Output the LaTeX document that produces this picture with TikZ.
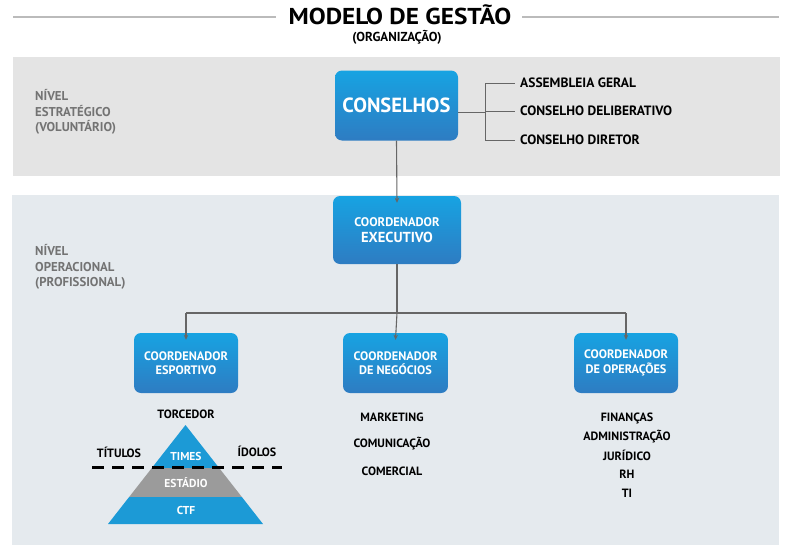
\documentclass[tikz,border=0pt]{standalone}
\usepackage{fontspec}
\setmainfont{PT Sans}
\usetikzlibrary{arrows.meta,calc}
\definecolor{bandA}{HTML}{E4E4E4}
\definecolor{bandB}{HTML}{E5EAEE}
\definecolor{boxtop}{HTML}{17A3E2}
\definecolor{boxbot}{HTML}{2E7CC2}
\definecolor{pyblue}{HTML}{1C9AD6}
\definecolor{pygray}{HTML}{9B9B9B}
\definecolor{lvl}{HTML}{737373}
\definecolor{conn}{HTML}{666666}
\definecolor{rule}{HTML}{BBBBBB}
\begin{document}
\begin{tikzpicture}[x=1pt,y=-1pt,
  box/.style={rounded corners=7pt, top color=boxtop, bottom color=boxbot, draw=none,
    text=white, align=center, inner sep=0pt},
  connline/.style={draw=conn, line width=1.1pt},
  arr/.style={connline, -{Stealth[length=5pt,width=4.5pt]}},
  lvltext/.style={text=lvl, font=\bfseries\fontsize{12.8}{15.8}\selectfont, align=left, anchor=north west, inner sep=0pt},
  item/.style={font=\bfseries\fontsize{12}{14}\selectfont, inner sep=0pt},
  bitem/.style={font=\bfseries\fontsize{13.5}{15}\selectfont, inner sep=0pt},
  pytext/.style={text=white, font=\bfseries\fontsize{11.5}{13}\selectfont, inner sep=0pt}
]
\useasboundingbox (0,0) rectangle (793,557);
\fill[white] (0,0) rectangle (793,557);
% title
\node[inner sep=0pt] (title) at (400,15) {\scalebox{1.1}[1]{\bfseries\fontsize{23}{25}\selectfont MODELO DE GESTÃO}};
\node[inner sep=0pt] (subtitle) at (397,37) {\bfseries\fontsize{13}{15}\selectfont (ORGANIZAÇÃO)};
\draw[rule, line width=1.8pt] (13,17) -- (276,17);
\draw[rule, line width=1.8pt] (522,17) -- (779,17);
% bands
\fill[bandA] (13,57) rectangle (780,176);
\fill[bandB] (12,195) rectangle (779,545);
% level labels
\node[lvltext] (lvl1) at (35,89) {NÍVEL\\ESTRATÉGICO\\(VOLUNTÁRIO)};
\node[lvltext] (lvl2) at (35,244) {NÍVEL\\OPERACIONAL\\(PROFISSIONAL)};
% boxes
\node[box, minimum width=123pt, minimum height=70pt, font=\bfseries\fontsize{20.5}{22}\selectfont] (cons) at (396.5,105.5)
  {CONSELHOS};
\node[box, minimum width=128pt, minimum height=68pt, font=\bfseries\fontsize{12.5}{14}\selectfont] (ce) at (397,230)
  {COORDENADOR\\[2pt]\fontsize{14.5}{17}\selectfont EXECUTIVO};
\node[box, minimum width=104pt, minimum height=60pt, font=\bfseries\fontsize{12.3}{14.5}\selectfont] (esp) at (186,363)
  {COORDENADOR\\ESPORTIVO};
\node[box, minimum width=105pt, minimum height=60pt, font=\bfseries\fontsize{12.3}{14.5}\selectfont] (neg) at (395.5,363)
  {COORDENADOR\\DE NEGÓCIOS};
\node[box, minimum width=104pt, minimum height=60pt, font=\bfseries\fontsize{12.3}{14.5}\selectfont] (ope) at (626,363)
  {COORDENADOR\\DE OPERAÇÕES};
% bracket labels
\node[bitem, anchor=west] (ag) at (520,83) {ASSEMBLEIA GERAL};
\node[bitem, anchor=west] (cd) at (520,111) {CONSELHO DELIBERATIVO};
\node[bitem, anchor=west] (cdir) at (520,140) {CONSELHO DIRETOR};
\coordinate (bj) at (485,112);
\draw[connline, line width=0.9pt] (cons.east |- bj) -- (bj);
\draw[connline, line width=0.9pt] (bj |- ag) -- (bj |- cdir);
\draw[connline, line width=0.9pt] (bj |- ag) -- ([xshift=-5pt]ag.west);
\draw[connline, line width=0.9pt] (bj |- cd) -- ([xshift=-5pt]cd.west);
\draw[connline, line width=0.9pt] (bj |- cdir) -- ([xshift=-5pt]cdir.west);
% arrows
\draw[arr] (cons.south) -- ([yshift=-7pt]ce.north);
\coordinate (hj) at (397,313);
\draw[connline] (ce.south) -- (hj);
\draw[connline] (esp.north |- hj) -- (ope.north |- hj);
\draw[arr] (esp.north |- hj) -- ([yshift=-7pt]esp.north);
\draw[arr] (hj) -- ([yshift=-7pt]neg.north);
\draw[arr] (ope.north |- hj) -- ([yshift=-7pt]ope.north);
% business list
\node[item] (mk) at (392,417) {MARKETING};
\node[item] (com) at (392,444) {COMUNICAÇÃO};
\node[item] (cml) at (392,471) {COMERCIAL};
% operations list
\node[item] (fin) at (627,418) {FINANÇAS};
\node[item] (adm) at (627,437) {ADMINISTRAÇÃO};
\node[item] (jur) at (627,455) {JURÍDICO};
\node[item] (rh) at (627,474) {RH};
\node[item] (ti) at (627,493) {TI};
% pyramid
\coordinate (apex) at (185.5,425);
\coordinate (bl) at (108,524);
\coordinate (br) at (263,524);
\fill[pyblue] (apex) -- ($(apex)!43/99!(bl)$) -- ($(apex)!43/99!(br)$) -- cycle;
\fill[pygray] ($(apex)!43/99!(bl)$) -- ($(apex)!72/99!(bl)$) -- ($(apex)!72/99!(br)$) -- ($(apex)!43/99!(br)$) -- cycle;
\fill[pyblue] ($(apex)!72/99!(bl)$) -- (bl) -- (br) -- ($(apex)!72/99!(br)$) -- cycle;
\draw[black, line width=3pt, dash pattern=on 12pt off 8pt] (92,467) -- (282,467);
\node[item] (torc) at (186,414) {TORCEDOR};
\node[item] (tit) at (119,452) {TÍTULOS};
\node[item] (ido) at (257,451) {ÍDOLOS};
\node[pytext] (times) at (186,456) {TIMES};
\node[pytext] (est) at (186,483) {ESTÁDIO};
\node[pytext] (ctf) at (186,510) {CTF};
\end{tikzpicture}
\end{document}
